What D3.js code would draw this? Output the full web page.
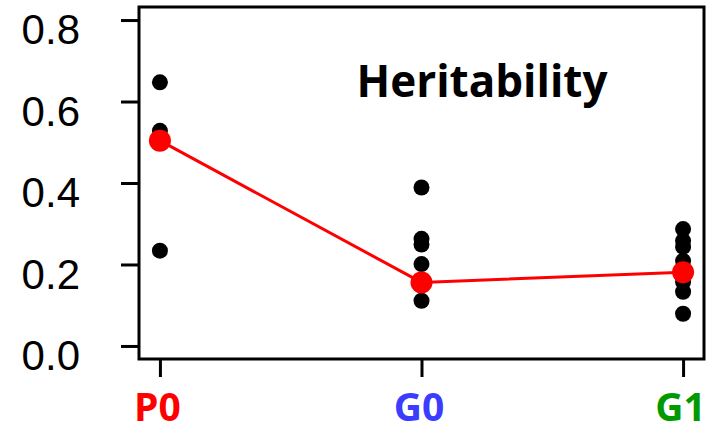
<!DOCTYPE html>
<html>
<head>
<meta charset="utf-8">
<script src="https://cdn.jsdelivr.net/npm/d3@7"></script>
<style>
  body { margin: 0; background: #fff; }
  svg { display: block; }
</style>
</head>
<body>
<svg id="chart" width="713" height="432"></svg>
<script>
// groups and their colours
var groups = ["P0", "G0", "G1"];
var groupColors = ["#ff0000", "#3c3cff", "#009a00"];

// individual heritability estimates per group
var p0Values = [0.647, 0.528, 0.234];
var g0Values = [0.389, 0.263, 0.249, 0.201, 0.111];
var g1Values = [0.287, 0.258, 0.243, 0.209, 0.180, 0.157, 0.133, 0.079];

// group means (red line)
var meanValues = [0.504, 0.156, 0.181];

var yTicks = [0.0, 0.2, 0.4, 0.6, 0.8];

var svg = d3.select("#chart");

var x = d3.scaleLinear()
    .domain([0.92, 3.08])
    .range([139, 704]);
var y = d3.scaleLinear()
    .domain([-0.032, 0.832])
    .range([359, 7]);

var box = { left: x(0.92), right: x(3.08), top: y(0.832), bottom: y(-0.032) };

// frame
svg.append("rect")
    .attr("x", box.left)
    .attr("y", box.top)
    .attr("width", box.right - box.left)
    .attr("height", box.bottom - box.top)
    .attr("fill", "none")
    .attr("stroke", "#000")
    .attr("stroke-width", 3);

// y axis
var axisY = d3.axisLeft(y)
    .tickValues(yTicks)
    .tickFormat(d3.format(".1f"))
    .tickSize(17)
    .tickPadding(41);
var gy = svg.append("g")
    .attr("transform", "translate(" + (box.left - 1) + ",0)")
    .call(axisY);
gy.select(".domain").remove();
gy.selectAll("line").attr("stroke-width", 3);
gy.selectAll("text")
    .attr("font-family", "Liberation Sans, Arial, sans-serif")
    .attr("font-size", 42)
    .attr("dy", "0.57em")
    .attr("fill", "#000");

// x axis
var axisX = d3.axisBottom(x)
    .tickValues([1, 2, 3])
    .tickFormat(function(d) { return groups[d - 1]; })
    .tickSize(17);
var gx = svg.append("g")
    .attr("transform", "translate(0," + (box.bottom + 1) + ")")
    .call(axisX);
gx.select(".domain").remove();
gx.selectAll("line").attr("stroke-width", 3);
gx.selectAll("text")
    .attr("y", 421 - (box.bottom + 1))
    .attr("dy", 0)
    .attr("dx", -3)
    .attr("font-family", "Open Sans, sans-serif")
    .attr("font-weight", "bold")
    .attr("font-size", 39)
    .attr("fill", function(d) { return groupColors[d - 1]; });

// points
var allValues = [p0Values, g0Values, g1Values];
var points = [];
allValues.forEach(function(vals, i) {
    vals.forEach(function(v) { points.push({ g: i + 1, v: v }); });
});

svg.selectAll("circle.pt")
    .data(points)
    .enter()
    .append("circle")
    .attr("class", "pt")
    .attr("cx", function(d) { return x(d.g); })
    .attr("cy", function(d) { return y(d.v); })
    .attr("r", 8)
    .attr("fill", "#000");

// mean line
var line = d3.line()
    .x(function(d, i) { return x(i + 1); })
    .y(function(d) { return y(d); });
svg.append("path")
    .datum(meanValues)
    .attr("d", line)
    .attr("fill", "none")
    .attr("stroke", "#ff0000")
    .attr("stroke-width", 3);

svg.selectAll("circle.mean")
    .data(meanValues)
    .enter()
    .append("circle")
    .attr("class", "mean")
    .attr("cx", function(d, i) { return x(i + 1); })
    .attr("cy", function(d) { return y(d); })
    .attr("r", 11)
    .attr("fill", "#ff0000");

// title
svg.append("text")
    .attr("x", 482)
    .attr("y", 97)
    .attr("text-anchor", "middle")
    .attr("font-family", "Open Sans, sans-serif")
    .attr("font-weight", "bold")
    .attr("font-size", 44)
    .text("Heritability");
</script>
</body>
</html>
